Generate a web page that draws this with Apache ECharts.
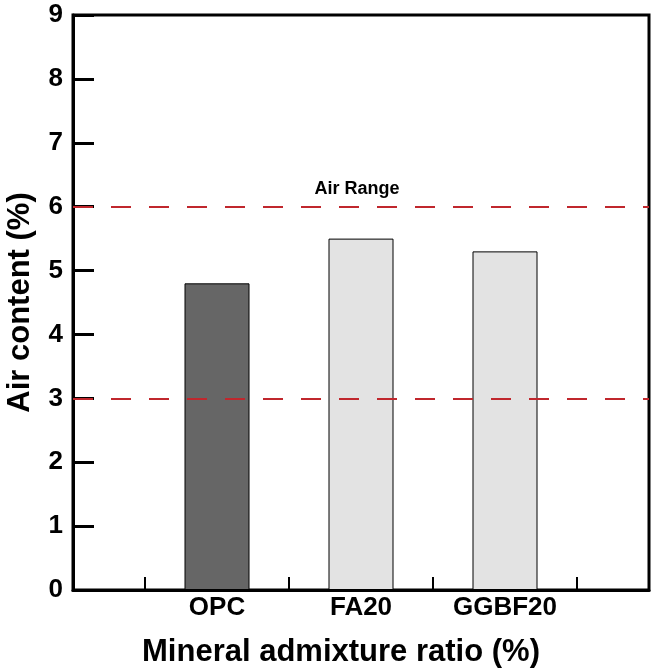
<!DOCTYPE html>
<html>
<head>
<meta charset="utf-8">
<script src="https://cdn.jsdelivr.net/npm/echarts@6/dist/echarts.min.js"></script>
<style>
  html, body { margin: 0; padding: 0; background: #ffffff; }
  #chart { width: 654px; height: 672px; }
</style>
</head>
<body>
<div id="chart"></div>
<script>
// ---- data ----
const categories = ['OPC', 'FA20', 'GGBF20'];
const categoryPositions = [1, 2, 3];
const airContent = [4.8, 5.5, 5.3];
const barColors = ['#666666', '#e3e3e3', '#e3e3e3'];
const rangeLow = 3;
const rangeHigh = 6;
const rangeLabel = 'Air Range';
const xTickPositions = [0.5, 1.5, 2.5, 3.5];
const yTicks = [0, 1, 2, 3, 4, 5, 6, 7, 8, 9];
const xTitle = 'Mineral admixture ratio (%)';
const yTitle = 'Air content (%)';

const FONT = "'Liberation Sans', Arial, sans-serif";

const chart = echarts.init(document.getElementById('chart'), null, { renderer: 'canvas' });

const barData = categories.map((c, i) => ({
  value: [categoryPositions[i], airContent[i]],
  itemStyle: { color: barColors[i], borderColor: '#000000', borderWidth: 1 }
}));

const option = {
  animation: false,
  backgroundColor: '#ffffff',
  grid: {
    left: 73, right: 5, top: 15, bottom: 82,
    containLabel: false,
    outerBoundsMode: 'none',
    show: true,
    borderColor: '#000000',
    borderWidth: 3,
    backgroundColor: 'transparent'
  },
  xAxis: {
    type: 'value',
    min: 0,
    max: 4,
    axisLine: { show: true, onZero: false, lineStyle: { color: '#000', width: 3 } },
    axisTick: {
      show: true, inside: true, length: 13,
      customValues: xTickPositions,
      lineStyle: { color: '#000', width: 2 }
    },
    axisLabel: {
      show: true,
      customValues: categoryPositions,
      formatter: (v) => categories[categoryPositions.indexOf(Math.round(v))] || '',
      color: '#000', fontFamily: FONT, fontWeight: 'bold', fontSize: 26, margin: 5
    },
    splitLine: { show: false },
    name: xTitle,
    nameLocation: 'middle',
    nameGap: 47,
    nameTextStyle: {
      color: '#000', fontFamily: FONT, fontWeight: 'bold', fontSize: 31,
      padding: [0, 40, 0, 0]
    }
  },
  yAxis: {
    type: 'value',
    min: yTicks[0],
    max: yTicks[yTicks.length - 1],
    interval: 1,
    axisLine: { show: true, lineStyle: { color: '#000', width: 3 } },
    axisTick: { show: true, inside: true, length: 21, lineStyle: { color: '#000', width: 3 } },
    axisLabel: {
      color: '#000', fontFamily: FONT, fontWeight: 'bold', fontSize: 26, margin: 10
    },
    splitLine: { show: false },
    name: yTitle,
    nameLocation: 'middle',
    nameGap: 37,
    nameTextStyle: { color: '#000', fontFamily: FONT, fontWeight: 'bold', fontSize: 31 }
  },
  series: [
    {
      type: 'bar',
      data: barData,
      barWidth: 65,
      z: 2,
      markLine: {
        silent: true,
        symbol: ['none', 'none'],
        lineStyle: { color: '#c0272d', type: [20, 18], width: 2 },
        label: { show: false },
        data: [
          { yAxis: rangeLow, label: { show: false } },
          {
            yAxis: rangeHigh,
            label: {
              show: true,
              formatter: rangeLabel,
              position: 'insideMiddleTop',
              distance: 9,
              padding: [0, 8, 0, 0],
              color: '#000', fontFamily: FONT, fontWeight: 'bold', fontSize: 18
            }
          }
        ]
      }
    }
  ]
};

chart.setOption(option);
</script>
</body>
</html>
